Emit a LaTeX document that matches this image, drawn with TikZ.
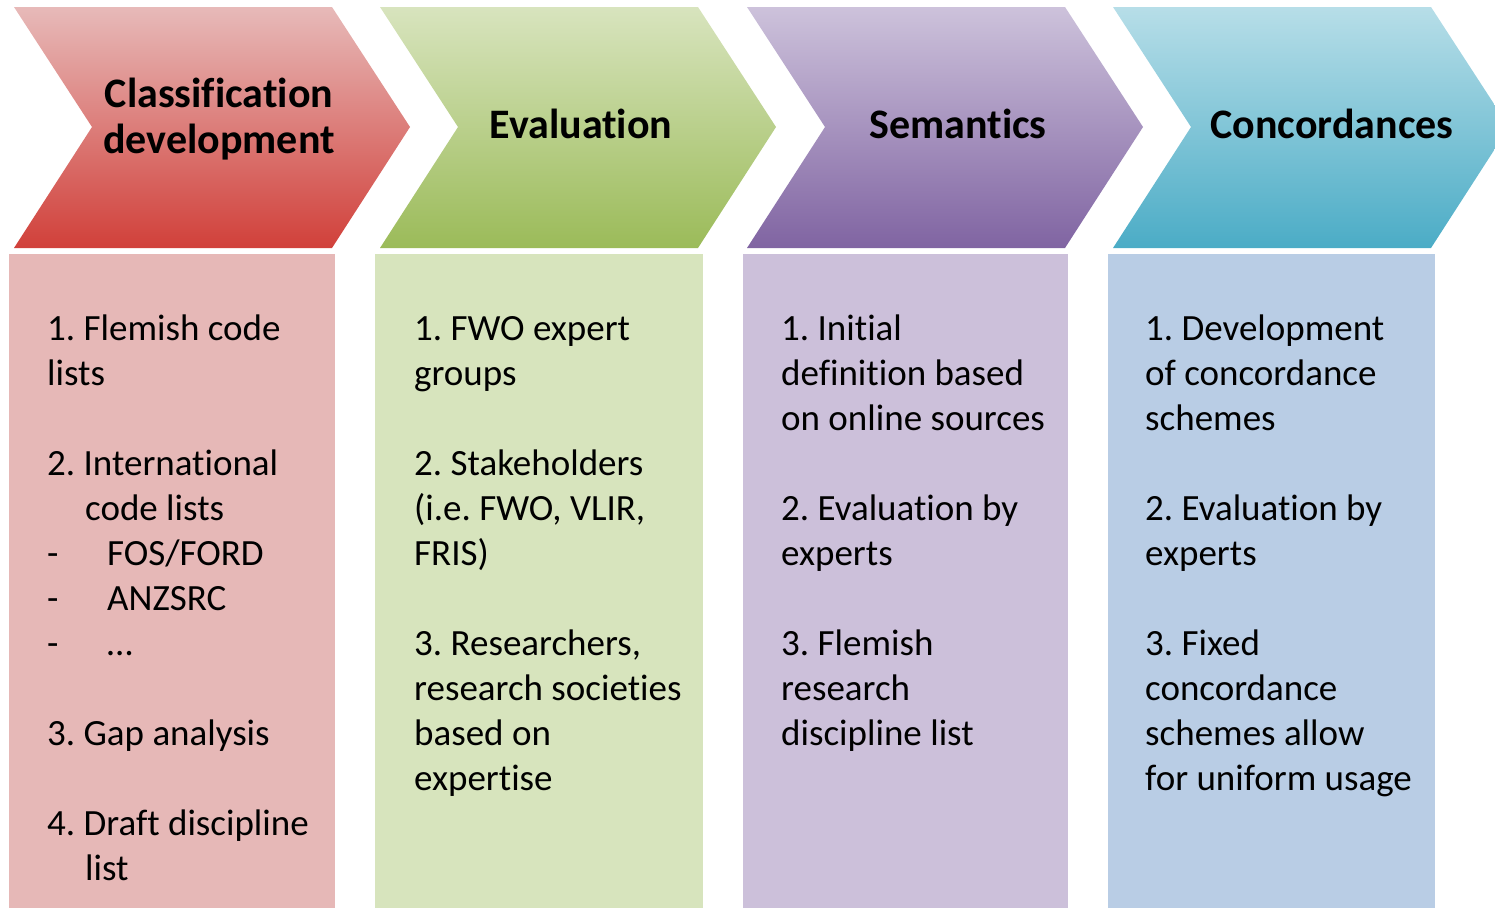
\documentclass[tikz,border=0pt]{standalone}
\usepackage{fontspec}
\setmainfont{Carlito}[Ligatures={NoCommon,NoContextual}]

\definecolor{redtop}{RGB}{231,186,185}
\definecolor{redbot}{RGB}{209,64,58}
\definecolor{redbox}{RGB}{230,184,183}
\definecolor{greentop}{RGB}{216,228,190}
\definecolor{greenbot}{RGB}{155,187,89}
\definecolor{greenbox}{RGB}{215,228,189}
\definecolor{violettop}{RGB}{205,194,219}
\definecolor{violetbot}{RGB}{128,100,162}
\definecolor{violetbox}{RGB}{204,192,218}
\definecolor{cyantop}{RGB}{183,222,232}
\definecolor{cyanbot}{RGB}{75,172,198}
\definecolor{bluebox}{RGB}{185,205,229}

\begin{document}
\frenchspacing
\begin{tikzpicture}[x=1pt, y=-1pt,
    title/.style={font=\fontsize{42}{46}\selectfont\bfseries, align=center, inner sep=0pt},
    steps/.style={font=\fontsize{37}{45}\selectfont, align=left, anchor=north west, inner sep=0pt}]
    \useasboundingbox (0,0) rectangle (1495,908);
    \clip (0,0) rectangle (1495,908);

    % chevrons
    \shade[top color=redtop, bottom color=redbot] (14,7) -- (332,7) -- (410,127) -- (332,248) -- (14,248) -- (92,127) -- cycle;
    \shade[top color=greentop, bottom color=greenbot] (380,7) -- (698,7) -- (776,127) -- (698,248) -- (380,248) -- (458,127) -- cycle;
    \shade[top color=violettop, bottom color=violetbot] (747,7) -- (1065,7) -- (1143,127) -- (1065,248) -- (747,248) -- (825,127) -- cycle;
    \shade[top color=cyantop, bottom color=cyanbot] (1113,7) -- (1431,7) -- (1509,127) -- (1431,248) -- (1113,248) -- (1191,127) -- cycle;

    % boxes
    \fill[redbox] (9,254) rectangle (335,908);
    \fill[greenbox] (375,254) rectangle (703,908);
    \fill[violetbox] (743,254) rectangle (1068,908);
    \fill[bluebox] (1108,254) rectangle (1435,908);

    \node[title] (classif) at (219,119) {Classification\\development};
    \node[title] (eval) at (581,124) {Evaluation};
    \node[title] (seman) at (958,124) {Semantics};
    \node[title] (concord) at (1332,124) {Concordances};

    \node[steps] (classiflist) at (47,309) {\strut1. Flemish code\\lists\\[44.8pt]
        2. International\\\hspace*{38pt}code lists\\
        \makebox[60pt][l]{-}FOS/FORD\\
        \makebox[60pt][l]{-}ANZSRC\\
        \makebox[60pt][l]{-}\dots\\[44.8pt]
        3. Gap analysis\\[44.8pt]
        4. Draft discipline\\\hspace*{38pt}list};
    \node[steps] (evallist) at (414,309) {\strut1. FWO expert\\groups\\[44.8pt]
        2. Stakeholders\\(i.e. FWO, VLIR,\\FRIS)\\[44.8pt]
        3. Researchers,\\research societies\\based on\\expertise};
    \node[steps] (semanlist) at (781,309) {\strut1. Initial\\definition based\\on online sources\\[44.8pt]
        2. Evaluation by\\experts\\[44.8pt]
        3. Flemish\\research\\discipline list};
    \node[steps] (concordlist) at (1145,309) {\strut1. Development\\of concordance\\schemes\\[44.8pt]
        2. Evaluation by\\experts\\[44.8pt]
        3. Fixed\\concordance\\schemes allow\\for uniform usage};
\end{tikzpicture}
\end{document}
